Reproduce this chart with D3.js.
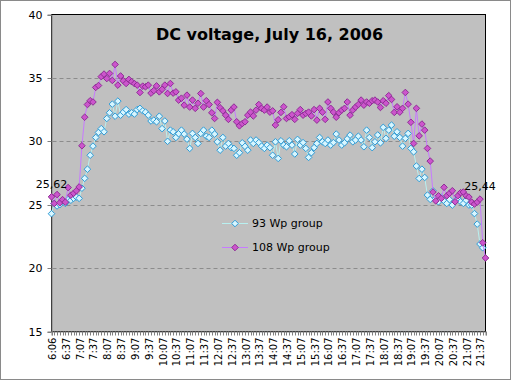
<!DOCTYPE html>
<html><head><meta charset="utf-8">
<script src="https://cdn.jsdelivr.net/npm/d3@7"></script>
<style>body{margin:0;background:#fff}svg{display:block}</style>
</head><body>
<svg id="c" width="513" height="381"></svg>
<script>
const title = "DC voltage, July 16, 2006";
const seriesNames = ["93 Wp group", "108 Wp group"];
const tickLabels = ["6:06","6:37","7:07","7:37","8:07","8:37","9:07","9:37","10:07","10:37","11:07","11:37","12:07","12:37","13:07","13:37","14:07","14:37","15:07","15:37","16:07","16:37","17:07","17:37","18:07","18:37","19:07","19:37","20:07","20:37","21:07","21:37"];
const yTicks = [15,20,25,30,35,40];
const g93 = [24.29,25.1,24.9,25.0,25.3,25.1,25.4,25.35,25.5,25.6,
25.5,26.3,27.08,27.8,28.9,29.62,30.3,30.7,31.0,30.75,
31.8,32.25,32.93,31.98,33.17,32.06,32.3,32.5,32.14,32.25,
32.15,32.5,32.6,32.4,32.3,32.06,31.6,31.67,31.54,31.98,
31.0,31.6,30.0,30.88,30.75,30.3,30.6,30.88,30.57,30.17,
29.44,30.62,30.3,29.83,30.62,30.88,30.4,30.3,30.88,30.57,
29.96,29.3,30.3,29.62,29.83,29.5,29.44,28.9,29.1,29.88,
29.6,29.3,30.1,29.83,30.1,29.9,29.62,29.44,29.7,29.5,
28.9,29.96,28.65,30.04,29.7,29.57,30.04,29.7,29.0,30.15,
29.7,29.9,29.44,28.73,29.1,29.5,29.83,30.3,29.96,29.83,
30.1,29.7,29.9,30.57,30.1,29.7,29.88,30.2,30.49,29.96,
30.1,30.4,30.1,29.57,30.88,30.3,29.5,29.96,30.5,29.88,
31.1,30.23,30.88,31.28,30.4,30.75,30.3,29.62,30.23,30.62,
29.44,29.17,28.05,27.07,27.8,27.15,25.76,25.42,26.1,25.5,
25.23,25.6,25.3,25.1,25.4,24.97,25.3,25.5,25.23,25.1,
25.35,24.97,24.97,24.3,23.47,21.9,21.6,null];
const g108 = [25.62,25.1,25.8,25.15,25.4,25.2,26.35,25.75,25.9,26.1,
26.4,29.65,31.9,32.9,33.2,33.1,34.25,34.4,35.1,35.3,
34.95,35.35,34.8,36.06,34.43,35.15,34.77,34.56,34.88,34.7,
34.55,34.43,33.85,34.35,34.3,34.43,33.8,34.0,34.37,33.9,
34.1,34.43,33.77,34.56,33.8,33.9,33.25,33.4,32.85,33.64,
32.7,33.25,32.6,33.0,33.77,32.7,33.2,32.9,32.25,31.8,
33.07,32.64,32.4,32.06,31.73,32.46,32.7,31.54,31.22,31.4,
31.54,32.06,32.3,32.0,32.46,32.9,32.6,32.46,32.7,32.3,
32.4,31.28,31.7,32.28,32.72,31.8,31.93,32.1,31.73,32.2,
32.5,32.06,32.2,32.3,32.0,32.5,31.67,32.6,32.3,31.73,
33.1,32.6,32.3,31.9,32.25,32.46,32.6,33.1,32.06,32.46,
32.7,32.9,33.25,32.85,33.1,33.0,33.2,33.25,33.1,32.67,
33.2,33.0,33.6,33.3,32.28,32.72,32.3,32.6,33.85,32.93,
31.5,29.83,32.6,30.43,31.36,30.88,29.44,28.44,26.0,25.3,
25.7,25.5,26.37,25.7,25.9,26.1,25.23,25.7,25.95,26.0,
25.7,25.6,25.2,25.05,25.2,25.44,22.0,20.8];
const labelled = [{s:1, i:0}, {s:1, i:155}];

const svg = d3.select("#c");
const L = 51.5, R = 485.5, T = 14.5, B = 331.5;
const N = g108.length;
const x = d3.scalePoint().domain(d3.range(N)).range([L, R]);
const y = d3.scaleLinear().domain([15, 40]).range([B, T]);

svg.append("rect").attr("x",0.5).attr("y",0.5).attr("width",510).attr("height",379)
  .attr("fill","#fff").attr("stroke","#8a8a8a");
svg.append("rect").attr("x",L).attr("y",T).attr("width",R-L).attr("height",B-T)
  .attr("fill","#c0c0c0").attr("stroke","#000");

// gridlines
svg.append("g").selectAll("line").data([20,25,30,35]).join("line")
  .attr("x1",L+1).attr("x2",R-1)
  .attr("y1",d=>Math.round(y(d))+0.5).attr("y2",d=>Math.round(y(d))+0.5)
  .attr("stroke","#8c8c8c").attr("stroke-dasharray","4,3");

// y axis
const ya = svg.append("g").attr("transform",`translate(${L},0)`)
  .call(d3.axisLeft(y).tickValues(yTicks).tickSize(4).tickPadding(5).tickFormat(d3.format("d")));
ya.select(".domain").attr("stroke","#808080");
ya.selectAll(".tick line").attr("stroke","#808080");
ya.selectAll("text").attr("font-family","DejaVu Sans").attr("font-size",11).attr("fill","#000");
ya.selectAll(".tick").attr("transform",d=>`translate(0,${Math.round(y(d))+0.5})`);

// x axis
const xa = svg.append("g").attr("transform",`translate(0,${B})`)
  .call(d3.axisBottom(x).tickSize(4).tickFormat(""));
xa.select(".domain").attr("stroke","#808080");
xa.selectAll(".tick line").attr("stroke","#808080");
xa.selectAll(".tick").attr("transform",d=>`translate(${Math.round(x(d))+0.5},0)`);
svg.append("g").selectAll("text").data(tickLabels).join("text")
  .attr("transform",(d,k)=>`translate(${x(k*5)+1},${B+6}) rotate(-90)`)
  .attr("text-anchor","end").attr("dominant-baseline","central")
  .attr("font-family","DejaVu Sans").attr("font-size",10).attr("fill","#000")
  .text(d=>d);

const styles = [
  {line:"#b8f0f0", fill:"#d8f6ff", stroke:"#2e9bd6"},
  {line:"#c77bff", fill:"#cc55cc", stroke:"#8e2e95"}
];
const diamond = (cx,cy,r) => `M${cx},${cy-r}L${cx+r},${cy}L${cx},${cy+r}L${cx-r},${cy}Z`;
[g93, g108].forEach((data, s) => {
  const st = styles[s];
  const line = d3.line().defined(d=>d!=null).x((d,i)=>x(i)).y(d=>y(d));
  svg.append("path").datum(data).attr("d",line).attr("fill","none")
    .attr("stroke",st.line).attr("stroke-width",1);
  svg.append("g").selectAll("path").data(data.map((v,i)=>({v,i})).filter(d=>d.v!=null)).join("path")
    .attr("d",d=>diamond(x(d.i),y(d.v),3.3))
    .attr("fill",st.fill).attr("stroke",st.stroke).attr("stroke-width",1);
});

// data labels
labelled.forEach(l => {
  const v = [g93,g108][l.s][l.i];
  svg.append("text").attr("x",x(l.i)).attr("y",y(v)-9)
    .attr("text-anchor","middle").attr("font-family","DejaVu Sans").attr("font-size",11)
    .attr("fill","#000").text(d3.format(".2f")(v).replace(".",","));
});

// legend
seriesNames.forEach((n,s)=>{
  const ly = [223.5,247.5][s], st = styles[s];
  svg.append("line").attr("x1",222).attr("x2",248).attr("y1",ly).attr("y2",ly)
    .attr("stroke",st.line);
  svg.append("path").attr("d",diamond(235,ly,3.3)).attr("fill",st.fill).attr("stroke",st.stroke);
  svg.append("text").attr("x",252).attr("y",ly).attr("dominant-baseline","central")
    .attr("font-family","DejaVu Sans").attr("font-size",11).attr("fill","#000").text(n);
});

// title
svg.append("text").attr("x",(L+R)/2+1).attr("y",40).attr("text-anchor","middle")
  .attr("font-family","DejaVu Sans").attr("font-weight","bold").attr("font-size",16)
  .attr("fill","#000").text(title);
</script>
</body></html>
